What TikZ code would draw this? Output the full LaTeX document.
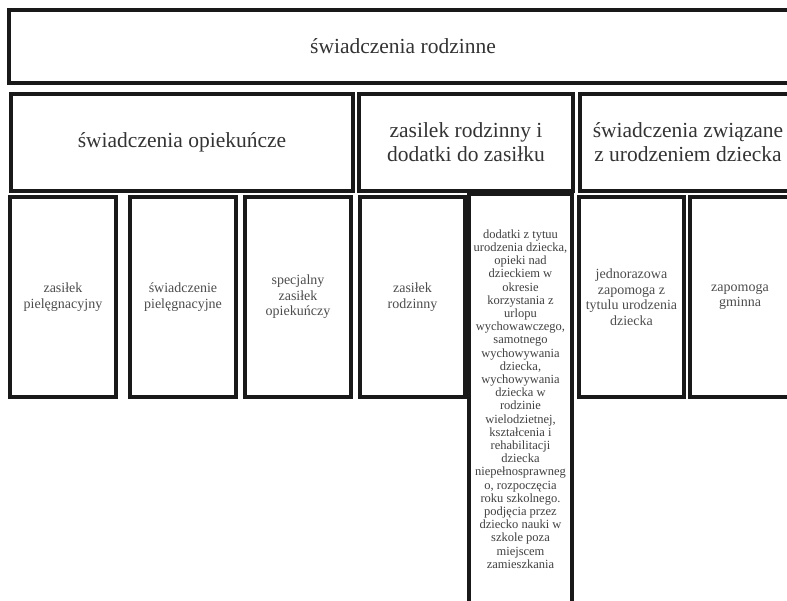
\documentclass[tikz,border=0pt]{standalone}
\usepackage{fontspec}
\setmainfont{Liberation Serif}
\usepackage{tikz}
\usetikzlibrary{positioning}
\tikzset{
  box/.style    ={draw=black!90, rectangle, line width=3.2pt, align=center, inner sep=0pt},
  headbox/.style={box, text=black!80, font=\fontsize{21.5}{24}\selectfont},
  leafbox/.style={box, text=black!70, minimum width=105pt, minimum height=200pt, font=\fontsize{14}{15.5}\selectfont},
  longbox/.style={box, text=black!75, font=\fontsize{12.5}{13.2}\selectfont},
}

\begin{document}
\begin{tikzpicture}[x=1pt, y=-1pt]
  \useasboundingbox (0,0) rectangle (787,601);
  \clip (0,0) rectangle (787,601);

  % top level
  \node[headbox, minimum width=788pt, minimum height=73pt] (root) at (403,46.5) {świadczenia rodzinne};

  % three groups
  \node[headbox, minimum width=342pt, minimum height=97pt] (care)   at (182,142.5) {świadczenia opiekuńcze};
  \node[headbox, minimum width=214pt, minimum height=97pt] (family) at (466,142.5) {zasilek rodzinny i\\dodatki do zasiłku};
  \node[headbox, minimum width=216pt, minimum height=97pt] (birth)  at (688,142.5) {świadczenia związane\\z urodzeniem dziecka};

  % leaves
  \node[leafbox, minimum width=106pt] (nurse)   at (63,297)    {zasiłek\\pielęgnacyjny};
  \node[leafbox, minimum width=106pt] (nursing) at (183,297)   {świadczenie\\pielęgnacyjne};
  \node[leafbox, minimum width=106pt] (special) at (298,297)   {specjalny\\zasiłek\\opiekuńczy};
  \node[leafbox]                      (allow)   at (412.5,297) {zasiłek\\rodzinny};
  \node[leafbox]                      (lump)    at (631.5,297) {jednorazowa\\zapomoga z\\tytulu urodzenia\\dziecka};
  \node[leafbox, minimum width=100pt] (local)   at (740,297)   {zapomoga\\gminna};

  % the long one runs off the page
  \node[longbox, minimum width=103pt, minimum height=410pt] (extras) at (520.5,399)
    {dodatki z tytuu\\urodzenia dziecka,\\opieki nad\\dzieckiem w\\okresie\\korzystania z\\urlopu\\wychowawczego,\\samotnego\\wychowywania\\dziecka,\\wychowywania\\dziecka w\\rodzinie\\wielodzietnej,\\kształcenia i\\rehabilitacji\\dziecka\\niepełnosprawneg\\o, rozpoczęcia\\roku szkolnego.\\podjęcia przez\\dziecko nauki w\\szkole poza\\miejscem\\zamieszkania};
\end{tikzpicture}
\end{document}
